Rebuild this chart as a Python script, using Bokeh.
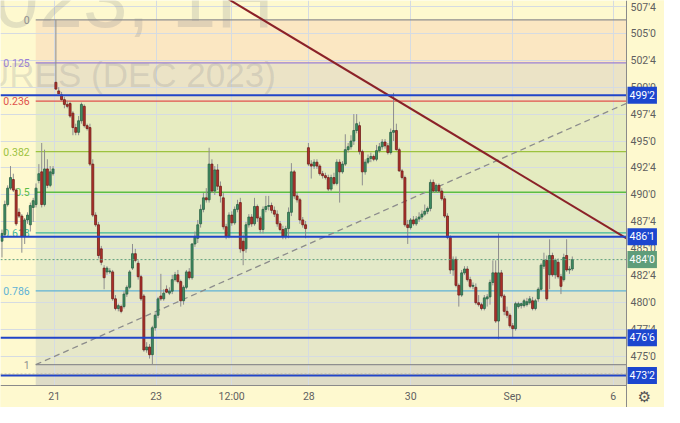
import numpy as np
from bokeh.plotting import figure
from bokeh.models import Range1d, FixedTicker, Label, CustomJSTickFormatter, ColumnDataSource
from bokeh.embed import file_html
from bokeh.resources import INLINE

# ---------------- data (hourly bars, ZCZ2023) ----------------
opens = [
    485.71, 486.34, 489.11, 490.63, 491.43, 490.45, 488.39, 488.04, 486.16, 487.68,
    487.23, 488.84, 489.11, 491.34, 492.14, 489.11, 492.41, 490.89, 491.97, 500.45,
    499.65, 499.29, 498.84, 498.40, 498.48, 497.59, 496.25, 495.81, 496.88, 498.22,
    496.43, 496.25, 492.86, 488.13, 487.23, 485.00, 483.21, 482.86, 482.86, 482.86,
    480.36, 479.46, 479.64, 479.64, 480.80, 481.43, 483.21, 484.55, 483.66, 482.41,
    480.62, 475.62, 475.89, 475.18, 477.68, 478.84, 480.62, 480.36, 481.25, 480.89,
    481.07, 482.14, 482.59, 481.96, 480.18, 481.43, 482.86, 482.32, 485.45, 485.98,
    487.32, 488.66, 489.73, 489.55, 492.86, 490.36, 492.32, 490.81, 489.73, 487.05,
    486.16, 488.13, 487.41, 488.66, 489.29, 485.71, 485.00, 487.23, 487.95, 487.32,
    488.93, 487.86, 486.79, 488.66, 488.93, 489.02, 488.57, 488.22, 487.32, 486.79,
    486.16, 486.88, 488.39, 492.14, 489.91, 489.55, 487.68, 487.23, 494.38, 492.86,
    492.68, 493.04, 492.68, 491.97, 491.79, 491.61, 490.54, 491.61, 491.07, 493.04,
    492.14, 492.86, 494.20, 494.47, 495.00, 495.98, 496.43, 494.02, 492.14, 493.04,
    493.39, 493.57, 493.31, 494.11, 494.47, 494.91, 494.56, 493.93, 495.81, 495.98,
    494.20, 492.23, 491.61, 487.23, 486.97, 487.68, 487.32, 487.77, 487.95, 488.22,
    488.48, 488.75, 491.16, 490.36, 490.89, 490.36, 489.64, 488.04, 486.07, 483.04,
    484.02, 481.61, 480.71, 482.77, 483.13, 482.14, 481.52, 481.43, 480.00, 479.82,
    479.46, 480.36, 480.54, 481.88, 482.77, 478.30, 482.77, 480.62, 479.20, 478.84,
    477.86, 477.59, 479.64, 479.73, 479.73, 479.82, 480.00, 480.18, 479.46, 480.36,
    481.25, 483.39, 483.93, 482.59, 484.38, 482.59, 483.75, 482.41, 482.14, 484.38,
    483.04, 483.13,
]
highs = [
    486.79, 489.47, 490.89, 492.68, 491.97, 490.63, 488.75, 488.22, 487.86, 488.39,
    489.29, 489.73, 491.07, 492.86, 494.82, 494.20, 493.31, 492.68, 492.68, 506.25,
    500.00, 499.56, 499.11, 498.75, 498.66, 497.77, 496.61, 497.32, 498.57, 498.40,
    496.61, 496.61, 493.31, 488.39, 487.50, 485.27, 483.48, 483.39, 483.21, 483.04,
    480.71, 479.91, 479.82, 481.07, 481.61, 483.04, 485.45, 485.00, 483.93, 482.59,
    480.80, 476.34, 476.16, 477.86, 479.02, 480.54, 482.68, 481.25, 481.61, 481.43,
    482.59, 482.86, 483.04, 482.14, 481.61, 483.04, 483.21, 485.54, 486.61, 487.68,
    489.11, 490.18, 490.63, 494.38, 493.31, 492.68, 492.86, 491.25, 490.18, 487.32,
    488.39, 488.48, 488.93, 489.55, 489.73, 486.34, 487.50, 488.22, 488.22, 489.73,
    489.11, 488.04, 488.93, 489.91, 489.91, 489.29, 488.93, 488.57, 487.59, 487.14,
    487.14, 488.84, 492.95, 492.32, 490.18, 489.73, 487.95, 487.59, 494.82, 493.22,
    493.31, 493.31, 492.86, 492.23, 492.06, 491.88, 491.88, 492.06, 493.31, 493.31,
    493.13, 495.63, 494.82, 495.54, 497.50, 497.50, 496.79, 494.20, 493.31, 493.75,
    493.93, 493.75, 494.64, 494.82, 495.18, 495.18, 494.82, 496.16, 499.47, 496.61,
    494.38, 492.41, 491.79, 487.68, 487.86, 488.04, 488.04, 488.39, 488.57, 489.11,
    488.93, 491.43, 491.43, 491.07, 491.07, 490.63, 489.91, 488.30, 486.25, 484.29,
    484.29, 481.79, 483.04, 483.39, 483.39, 482.41, 481.88, 481.79, 480.71, 480.00,
    480.71, 480.80, 482.14, 483.93, 483.93, 486.43, 483.04, 480.80, 479.64, 479.02,
    478.12, 480.09, 480.09, 480.00, 480.36, 480.45, 480.62, 480.54, 480.36, 481.43,
    483.66, 484.64, 484.38, 485.89, 484.64, 484.11, 484.11, 482.68, 484.55, 485.89,
    483.39, 484.29,
]
lows = [
    484.20, 486.07, 488.93, 490.45, 490.27, 487.14, 487.86, 484.64, 485.45, 487.32,
    486.61, 487.50, 488.84, 491.07, 488.84, 488.93, 490.63, 490.72, 491.79, 499.75,
    499.38, 498.75, 498.04, 498.04, 497.15, 495.54, 495.54, 495.54, 496.61, 496.25,
    495.98, 492.68, 487.95, 487.05, 484.11, 483.48, 481.25, 482.59, 482.68, 480.18,
    479.29, 479.20, 479.02, 479.46, 480.54, 481.25, 483.04, 483.75, 482.14, 480.18,
    475.45, 475.36, 474.82, 474.25, 477.41, 478.57, 480.18, 480.18, 480.89, 480.71,
    480.80, 481.96, 481.79, 479.64, 479.82, 481.25, 482.14, 482.14, 485.18, 485.54,
    486.97, 488.39, 489.29, 489.29, 490.18, 490.00, 490.45, 489.29, 486.79, 485.89,
    485.98, 487.14, 487.23, 488.39, 484.64, 483.48, 484.64, 486.97, 487.05, 487.14,
    487.50, 486.43, 486.43, 488.39, 488.57, 488.30, 487.95, 487.05, 486.61, 485.89,
    485.89, 485.98, 488.04, 489.64, 489.29, 487.32, 486.97, 485.98, 492.68, 491.52,
    492.41, 492.41, 491.79, 491.52, 491.43, 490.36, 490.36, 490.89, 490.89, 489.29,
    491.97, 492.68, 493.93, 494.20, 494.64, 495.72, 493.75, 490.89, 491.88, 492.86,
    493.04, 493.13, 493.13, 493.93, 494.20, 494.29, 493.75, 493.75, 495.00, 494.11,
    492.14, 491.43, 487.05, 485.45, 486.79, 487.14, 487.14, 487.50, 487.68, 488.04,
    488.22, 488.48, 490.18, 490.18, 490.18, 489.47, 487.86, 485.89, 482.68, 482.50,
    481.43, 479.64, 480.54, 482.59, 481.96, 481.34, 481.25, 479.82, 479.64, 479.29,
    479.29, 479.64, 479.82, 481.61, 478.12, 476.61, 480.45, 478.84, 478.57, 477.68,
    476.78, 477.41, 479.46, 479.46, 479.55, 479.64, 479.82, 479.29, 479.29, 480.09,
    481.07, 483.13, 480.18, 481.25, 482.41, 482.23, 482.23, 480.80, 481.96, 482.86,
    482.68, 482.95,
]
closes = [
    486.43, 489.11, 490.63, 491.61, 490.45, 487.32, 488.04, 486.16, 487.68, 488.13,
    489.02, 489.47, 490.63, 491.97, 489.11, 492.41, 490.89, 492.14, 492.41, 499.82,
    499.38, 498.84, 498.40, 498.22, 497.32, 496.25, 495.81, 496.88, 498.40, 496.43,
    496.16, 492.86, 488.13, 487.23, 484.38, 483.75, 482.32, 483.21, 482.95, 480.36,
    479.46, 479.73, 479.20, 480.80, 481.43, 482.86, 484.55, 483.93, 482.41, 480.36,
    475.62, 475.89, 475.18, 477.68, 478.84, 480.36, 480.36, 480.89, 480.98, 481.07,
    482.14, 482.59, 481.96, 480.18, 481.43, 482.86, 482.32, 485.45, 486.16, 487.23,
    488.66, 489.73, 489.55, 492.86, 490.36, 492.32, 490.81, 489.91, 487.05, 486.16,
    488.13, 487.41, 488.66, 489.11, 485.00, 484.82, 487.23, 487.95, 487.32, 488.93,
    487.86, 486.79, 488.66, 488.93, 489.02, 488.57, 488.22, 487.32, 486.79, 486.16,
    486.88, 488.39, 492.14, 489.91, 489.55, 487.68, 487.23, 486.88, 492.86, 492.68,
    493.04, 492.68, 491.97, 491.79, 491.61, 490.54, 491.61, 491.07, 493.04, 492.14,
    492.86, 494.20, 494.47, 495.00, 495.98, 496.61, 494.02, 492.14, 493.04, 493.39,
    493.57, 493.31, 494.11, 494.47, 494.91, 494.56, 493.93, 495.81, 495.98, 494.20,
    492.23, 491.61, 487.23, 486.97, 487.68, 487.32, 487.77, 487.95, 488.22, 488.48,
    488.75, 491.16, 490.36, 490.89, 490.36, 489.64, 488.04, 486.07, 483.04, 484.02,
    481.61, 480.71, 482.77, 483.13, 482.14, 481.52, 481.61, 480.00, 479.82, 479.46,
    480.45, 480.54, 481.88, 482.77, 478.30, 482.77, 480.62, 479.20, 478.84, 477.86,
    477.59, 479.91, 479.91, 479.91, 480.18, 480.09, 480.36, 479.46, 480.18, 481.25,
    483.48, 483.93, 480.36, 484.38, 482.59, 483.93, 482.41, 481.52, 484.20, 483.04,
    483.13, 484.00,
]

# time axis (bar index positions of the date ticks)
x_tick_pos = [18.42, 54.32, 80.96, 108.16, 144.06, 179.86, 215.42]
x_tick_labels = ["21", "23", "12:00", "28", "30", "Sep", "6"]

# price axis ticks
price_ticks = [475.0, 477.5, 480.0, 482.5, 485.0, 487.5, 490.0, 492.5,
               495.0, 497.5, 500.0, 502.5, 505.0, 507.5]

# Fibonacci retracement (anchor A = low, anchor B = high)
fib_anchor_bars = [11.9, 286.6]
fib_anchor_prices = [474.25, 506.25]
fib_levels = [0, 0.125, 0.236, 0.382, 0.5, 0.618, 0.786, 1]
fib_texts = ["0", "0.125", "0.236", "0.382", "0.5", "0.618", "0.786", "1"]
fib_line_colors = ["#8f8f8f", "#9a80d4", "#e0534d", "#9cc23f", "#5bbd45",
                   "#3db79a", "#5fb2d6", "#8f8f8f"]
fib_band_colors = ["#fbe7c2", "#ebe3c6", "#e7ecc1", "#e4ebc0", "#e1e9c2",
                   "#e3e9c8", "#e6e7c8"]
fib_below_color = "#dedcc7"

# horizontal levels
level_prices = [499.25, 486.125, 476.75, 473.25]
last_price = 484.0
low_marker_price = 473.37

# descending trend line (two anchor points)
trend_bars = [80.6, 220.1]
trend_prices = [508.04, 485.98]

watermark_line1 = "ZCZ2023, 1H"
watermark_line2 = "CORN FUTURES (DEC 2023)"

# ---------------- figure ----------------
BG = "#fef9cf"
GRID = "#d5dbe2"
W, H = 664, 407
AXIS_R, AXIS_B = 38, 22
x_start, x_end = -0.52, 220.1          # price-pane extent (bars)
y_start, y_end = 472.32, 508.04        # price-pane extent (price)
ppx = (W - AXIS_R) / (x_end - x_start)
ppy = (H - AXIS_B) / (y_end - y_start)
x_full = x_end + AXIS_R / ppx
y_full = y_start - AXIS_B / ppy

p = figure(width=W, height=H,
           x_range=Range1d(x_start, x_full), y_range=Range1d(y_full, y_end),
           output_backend="svg", toolbar_location=None, y_axis_location="right",
           min_border=0, min_border_left=0, min_border_top=0, min_border_right=0,
           min_border_bottom=0)
p.background_fill_color = BG
p.border_fill_color = BG
p.outline_line_color = None

# axes (drawn at the edge of the price pane)
for ax in (p.xaxis[0], p.yaxis[0]):
    ax.major_tick_line_color = None
    ax.minor_tick_line_color = None
    ax.major_tick_out = 0
    ax.major_tick_in = 0
    ax.minor_tick_out = 0
    ax.minor_tick_in = 0
    ax.axis_line_color = "#8a8a8a"
    ax.major_label_text_color = "#5f5f5f"
    ax.major_label_text_font = "Roboto"
    ax.major_label_text_font_size = "10.5px"
    ax.major_label_standoff = 4

p.yaxis[0].fixed_location = x_end
p.yaxis[0].bounds = (y_full, y_end)
p.xaxis[0].fixed_location = y_start
p.xaxis[0].bounds = (x_start, x_end)

p.yaxis.ticker = FixedTicker(ticks=price_ticks)
p.yaxis.formatter = CustomJSTickFormatter(code="""
    const w = Math.floor(tick + 1e-6);
    const e = Math.round((tick - w) * 8);
    return w + "'" + e;
""")
p.xaxis.ticker = FixedTicker(ticks=x_tick_pos)
p.xaxis.formatter = CustomJSTickFormatter(args=dict(pos=x_tick_pos, lab=x_tick_labels), code="""
    let best = 0, bd = 1e9;
    for (let i = 0; i < pos.length; i++) {
        const d = Math.abs(pos[i] - tick);
        if (d < bd) { bd = d; best = i; }
    }
    return lab[best];
""")

p.xgrid.ticker = FixedTicker(ticks=x_tick_pos)
p.ygrid.ticker = FixedTicker(ticks=price_ticks)
p.grid.grid_line_color = GRID
p.grid.grid_line_width = 1

# ---------------- fibonacci ----------------
fib_low, fib_high = fib_anchor_prices
fib_start = fib_anchor_bars[0]
fib_prices = [fib_high - lv * (fib_high - fib_low) for lv in fib_levels]
nb = len(fib_prices) - 1

p.quad(left=[fib_start] * nb, right=[x_end] * nb,
       top=fib_prices[:-1], bottom=fib_prices[1:], fill_color=fib_band_colors,
       line_color=None, level="image")
p.quad(left=[fib_start], right=[x_end], top=[fib_low], bottom=[y_start],
       fill_color=fib_below_color, line_color=None, level="image")

# watermark
p.add_layout(Label(x=95.9, y=508.15, text=watermark_line1, text_align="right",
                   text_baseline="alphabetic", text_font="Liberation Sans",
                   text_font_size="80px", text_color="#787b86", text_alpha=0.2,
                   level="underlay"))
p.add_layout(Label(x=96.5, y=501.13, text=watermark_line2, text_align="right",
                   text_baseline="alphabetic", text_font="Liberation Sans",
                   text_font_size="35px", text_color="#787b86", text_alpha=0.2,
                   level="underlay"))

for txt, pr, col in zip(fib_texts, fib_prices, fib_line_colors):
    p.add_layout(Label(x=fib_start, y=pr, x_offset=-6, text=txt, text_align="right",
                       text_baseline="middle", text_font="Roboto", text_font_size="10.5px",
                       text_color=col, level="underlay"))

p.segment(x0=[fib_start] * len(fib_prices), y0=fib_prices,
          x1=[x_end] * len(fib_prices), y1=fib_prices,
          line_color=fib_line_colors, line_width=1.3)

# fib trend (dashed) line between anchors
p.line(x=fib_anchor_bars, y=fib_anchor_prices, line_color="#8c8c8c", line_width=1.3,
       line_dash="6 4")

# ---------------- candles ----------------
o = np.array(opens); h = np.array(highs); l = np.array(lows); c = np.array(closes)
idx = np.arange(len(o))
up = c >= o
p.segment(x0=idx, y0=h, x1=idx, y1=l, line_color="#8e8e8e", line_width=1)
src_up = ColumnDataSource(dict(x=idx[up], top=c[up], bottom=o[up]))
src_dn = ColumnDataSource(dict(x=idx[~up], top=o[~up], bottom=c[~up]))
p.vbar(x="x", top="top", bottom="bottom", width=0.7, source=src_up,
       fill_color="#3f8f64", line_color="#2a5f44", line_width=0.8)
p.vbar(x="x", top="top", bottom="bottom", width=0.7, source=src_dn,
       fill_color="#b3312b", line_color="#6e1d19", line_width=0.8)

# ---------------- drawings ----------------
slope = (trend_prices[1] - trend_prices[0]) / (trend_bars[1] - trend_bars[0])
tx = [trend_bars[0] - 10, trend_bars[1]]
ty = [trend_prices[0] - 10 * slope, trend_prices[1]]
p.line(x=tx, y=ty, line_color="#8b2228", line_width=2)

BLUE = "#2145c8"
nl = len(level_prices)
p.segment(x0=[x_start] * nl, y0=level_prices, x1=[x_end] * nl, y1=level_prices,
          line_color=BLUE, line_width=2)
p.segment(x0=[x_start], y0=[last_price], x1=[x_end], y1=[last_price],
          line_color="#5f9e7c", line_width=1, line_dash="2 2")
p.segment(x0=[x_start], y0=[low_marker_price], x1=[x_end], y1=[low_marker_price],
          line_color="#9a9a9a", line_width=1, line_dash="2 2")

# axis panes (cover the grid outside the price pane)
p.quad(left=[x_end, x_start - 5], right=[x_full + 5, x_full + 5],
       top=[y_end + 5, y_start], bottom=[y_full - 5, y_full - 5],
       fill_color=BG, line_color=None)


def fmt_price(v):
    w = int(np.floor(v + 1e-6))
    e = int(round((v - w) * 8))
    return f"{w}'{e}"


for pr in level_prices:
    p.add_layout(Label(x=x_end, y=pr, x_offset=1, text=fmt_price(pr), text_align="left",
                       text_baseline="middle", text_font="Roboto", text_font_size="10.5px",
                       text_color="white", background_fill_color="#1c46cf",
                       padding=2))
p.add_layout(Label(x=x_end, y=last_price, x_offset=1, text=fmt_price(last_price),
                   text_align="left", text_baseline="middle", text_font="Roboto",
                   text_font_size="10.5px", text_color="white",
                   background_fill_color="#5f9d7a", padding=2))

p.add_layout(Label(x=x_end, y=y_start, x_offset=18, y_offset=-11, text="\u2699",
                   text_align="center", text_baseline="middle", text_font="DejaVu Sans",
                   text_font_size="15px", text_color="#555555"))

open("out.html", "w").write(file_html(p, INLINE))
